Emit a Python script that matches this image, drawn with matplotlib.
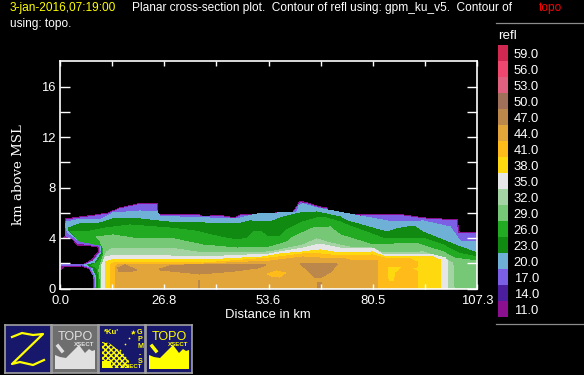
import matplotlib
matplotlib.use('Agg')
import matplotlib.pyplot as plt
from matplotlib.lines import Line2D

plt.rcParams['font.family'] = ['Liberation Sans', 'DejaVu Sans']

# refl levels and colour key
levels = [11, 14, 17, 20, 23, 26, 29, 32, 35, 38, 41, 44, 47, 50, 53, 56, 59]
level_colors = ['#8b1090', '#4b1e9e', '#7b60e6', '#6fb1d6', '#108a10', '#22aa22',
                '#76c876', '#a4d4a4', '#e6e6e6', '#ffd90f', '#ffbb1a', '#e1a53a',
                '#bc874b', '#a0705a', '#e06080', '#f0476f', '#d02850']
col = dict(zip(levels, level_colors))

# contour outlines, distance in km and height in km
x_11 = [8.6, 8.5, 7.7, 5.7, 1.0, 0, 0, 6.2, 8.2, 9.8, 9.8, 8.2, 4.6, 3.1, 1.0, 1.3, 1.3, 9.0, 12.4, 15.4, 20.1, 25.0, 25.2, 30.1,
        36.0, 36.8, 40.4, 45.0, 46.3, 60.0, 61.2, 61.8, 63.6, 66.9, 68.7, 69.0, 77.2, 86.7, 93.7, 102.2, 102.7, 107.3, 107.3]
y_11 = [0, 1.07, 1.55, 1.79, 1.71, 1.47, 1.94, 1.94, 2.26, 2.9, 3.29, 3.37, 3.45, 3.93, 4.0, 4.1, 5.52, 5.83, 5.99, 6.39, 6.71, 6.71, 5.91, 5.91,
        5.83, 5.67, 5.83, 5.6, 5.83, 6.07, 6.63, 6.94, 6.79, 6.47, 6.39, 5.99, 5.83, 5.91, 5.6, 5.44, 4.48, 4.48, 0]
x_17 = [8.9, 8.7, 7.7, 5.7, 0, 0, 6.2, 8.5, 10.3, 10.0, 8.2, 4.6, 3.1, 1.5, 1.5, 1.8, 9.0, 12.4, 15.4, 20.1, 24.7, 25.2, 30.1,
        36.0, 40.4, 45.0, 46.3, 60.0, 61.5, 62.0, 63.6, 66.9, 68.7, 69.0, 77.2, 86.7, 93.7, 101.9, 102.4, 107.3, 107.3]
y_17 = [0, 1.0, 1.63, 1.87, 1.79, 1.87, 1.87, 2.18, 2.9, 3.37, 3.45, 3.61, 4.0, 4.17, 5.28, 5.44, 5.75, 5.91, 6.31, 6.63, 6.63, 5.83, 5.83,
        5.75, 5.75, 5.52, 5.75, 5.99, 6.63, 6.79, 6.71, 6.39, 6.31, 5.91, 5.75, 5.83, 5.52, 5.36, 4.4, 4.4, 0]
x_20 = [9.3, 9.0, 8.0, 6.2, 6.9, 8.7, 10.6, 10.3, 8.2, 5.1, 3.6, 2.1, 1.3, 1.8, 4.4, 10.3, 13.6, 20.6, 25.0, 25.7, 30.9,
        45.5, 50.7, 61.0, 61.5, 62.5, 66.1, 70.3, 77.2, 85.7, 93.4, 100.4, 102.9, 107.3, 107.3]
y_20 = [0, 1, 1.71, 1.87, 1.9, 2.18, 2.9, 3.53, 3.61, 3.77, 4.09, 4.4, 5.04, 5.28, 5.44, 5.44, 5.99, 6.15, 6.07, 5.75, 5.67,
        5.52, 5.91, 6.07, 6.55, 6.71, 6.39, 6.15, 5.75, 5.28, 5.36, 4.88, 3.77, 3.69, 0]
x_23 = [9.5, 9.5, 8.5, 7.2, 9.0, 10.8, 10.6, 8.2, 5.7, 3.6, 2.1, 2.1, 5.1, 10.3, 13.6, 20.6, 27.5, 36.8, 45.5, 48.9, 54.0, 57.4,
        61.8, 66.1, 72.1, 73.9, 84.1, 86.7, 89.3, 91.4, 93.4, 100.4, 102.4, 107.3, 107.3]
y_23 = [0, 0.91, 1.63, 1.87, 2.02, 2.82, 3.61, 3.77, 3.69, 4.17, 4.72, 4.8, 5.12, 5.2, 5.52, 5.52, 5.28, 5.2, 5.12, 5.36, 5.28, 5.67,
        5.99, 6.07, 5.67, 5.36, 4.48, 4.72, 4.88, 4.88, 4.48, 3.61, 3.37, 2.82, 0]
x_26 = [9.8, 10.0, 9.5, 8.2, 9.5, 11.1, 10.8, 10.3, 5.1, 3.6, 2.6, 3.1, 7.7, 11.6, 18.0, 28.3, 34.7, 41.2, 45.5, 48.1, 49.7, 51.5, 53.5,
        56.6, 58.4, 62.5, 66.1, 67.7, 72.1, 73.9, 83.1, 93.4, 98.6, 102.4, 107.3, 107.3]
y_26 = [0, 0.83, 1.63, 1.83, 2.02, 2.74, 3.61, 3.45, 3.77, 4.25, 4.56, 4.48, 4.56, 4.8, 5.04, 4.8, 4.56, 4.09, 3.85, 4.0, 4.48, 4.56, 4.09,
        4.09, 4.64, 5.28, 5.6, 5.67, 5.28, 5.04, 4.0, 4.0, 3.45, 2.82, 2.5, 0]
x_29 = [10.3, 10.3, 10.0, 10.3, 11.1, 11.1, 10.3, 9.5, 13.6, 18.8, 28.3, 36.8, 45.5, 54.0, 58.4, 60.0, 65.1, 69.5, 72.1, 73.9, 80.5,
        91.4, 98.6, 101.4, 107.3, 107.3]
y_29 = [0, 0.75, 1.47, 1.87, 2.58, 3.21, 3.77, 4.09, 4.25, 4.0, 4.0, 3.45, 3.21, 3.29, 3.69, 4.09, 4.8, 4.88, 4.25, 4.09, 3.45,
        3.61, 2.9, 2.42, 2.18, 0]
x_32 = [10.6, 10.8, 11.3, 11.6, 12.1, 13.6, 28.3, 36.8, 54.0, 62.5, 66.1, 69.5, 74.6, 80.3, 83.1, 93.4, 98.6, 101.1, 101.4]
y_32 = [0, 1.47, 2.1, 2.66, 2.9, 3.21, 3.21, 2.82, 2.9, 3.45, 3.93, 3.61, 3.29, 3.21, 2.82, 2.9, 2.42, 2.02, 0]
x_35 = [10.8, 10.8, 11.6, 12.9, 28.3, 36.8, 54.0, 56.6, 62.5, 66.9, 72.1, 76.4, 80.5, 83.1, 96.0, 99.1, 99.8, 99.8]
y_35 = [0, 1.87, 2.5, 2.58, 2.58, 2.5, 2.74, 2.9, 3.21, 3.53, 3.21, 3.21, 3.21, 2.66, 2.66, 2.42, 2.1, 0]
x_38 = [11.8, 11.8, 12.9, 28.3, 36.8, 52.2, 56.6, 62.5, 66.9, 72.1, 74.6, 80.5, 83.1, 96.0, 97.8, 98.0]
y_38 = [0, 2.1, 2.26, 2.34, 2.26, 2.5, 2.74, 2.9, 3.06, 2.82, 2.82, 2.9, 2.58, 2.5, 2.26, 0]
x_41 = [13.1, 13.1, 14.2, 28.3, 36.8, 54.0, 62.5, 66.9, 72.1, 80.3, 83.6, 89.6, 91.9, 91.9, 90.1, 92.1, 92.1]
y_41 = [0, 1.94, 2.1, 2.1, 2.02, 2.42, 2.74, 2.74, 2.58, 2.66, 2.42, 2.42, 2.1, 1.71, 1.63, 1.31, 0]
x_44 = [14.2, 14.2, 14.9, 28.3, 36.8, 54.0, 62.5, 66.9, 72.1, 74.6, 81.6, 81.6]
y_44 = [0, 1.63, 1.94, 1.94, 1.94, 2.18, 2.5, 2.42, 2.42, 2.26, 2.26, 0]

# small closed patches inside the core
x_47a = [14.9, 16.7, 18.5, 19.8, 17.5, 15.2]
y_47a = [1.63, 1.87, 1.63, 1.47, 1.31, 1.31]
x_47b = [25.7, 28.3, 36.0, 53.0, 50.9, 45.0, 36.0, 28.3, 25.7]
y_47b = [1.55, 1.79, 1.94, 1.87, 1.63, 1.39, 1.15, 1.39, 1.47]
x_47c = [61.8, 64.3, 71.5, 69.5, 67.4, 65.6, 63.7]
y_47c = [1.94, 2.02, 1.94, 1.31, 0.91, 0.91, 1.47]
x_47d = [66.1, 67.4, 67.4, 66.1]
y_47d = [0.52, 0.52, 0, 0]
x_47e = [35.6, 36.0, 36.0, 35.6]
y_47e = [0.67, 0.67, 0, 0]
x_41b = [53.5, 55.8, 57.9, 56.6, 54.5]
y_41b = [1.15, 1.39, 1.23, 0.91, 0.99]
x_38b = [84.4, 87.5, 86.2, 85.7, 84.7]
y_38b = [1.63, 1.63, 1.31, 0.67, 0.67]

layers = [(x_11, y_11, 11), (x_17, y_17, 17), (x_20, y_20, 20), (x_23, y_23, 23), (x_26, y_26, 26),
          (x_29, y_29, 29), (x_32, y_32, 32), (x_35, y_35, 35), (x_38, y_38, 38), (x_41, y_41, 41),
          (x_44, y_44, 44), (x_47a, y_47a, 47), (x_47b, y_47b, 47), (x_47c, y_47c, 47), (x_47d, y_47d, 47),
          (x_47e, y_47e, 47), (x_41b, y_41b, 41), (x_38b, y_38b, 38)]

x_labels = ['0.0', '26.8', '53.6', '80.5', '107.3']
x_label_pos = [0, 26.82, 53.65, 80.47, 107.3]
x_minor = [13.41, 40.24, 67.06, 93.89]
y_ticks = [0, 2, 4, 6, 8, 10, 12, 14, 16]
y_labels = ['0', '', '4', '', '8', '', '12', '', '16']

W, H = 584, 375
fig = plt.figure(figsize=(W / 100, H / 100), dpi=100, facecolor='black')


def box(x0, y0, x1, y1):
    # pixel box of the picture, y down, to figure fractions
    return [x0 / W, 1 - y1 / H, (x1 - x0) / W, (y1 - y0) / H]


def label(px, py, s, color='white', size=8.6, **kw):
    fig.text(px / W, 1 - py / H, s, color=color, fontsize=size, va='center', **kw)


# main plot
ax = fig.add_axes(box(60, 61, 477, 288.5), facecolor='black')
for xs, ys, lev in layers:
    ax.fill(xs, ys, color=col[lev], lw=0, antialiased=False)
ax.set_xlim(0, 107.3)
ax.set_ylim(0, 18.05)
for s in ax.spines.values():
    s.set_color('white')
    s.set_linewidth(1.2)
ax.set_xticks(x_label_pos)
ax.set_xticklabels(x_labels, color='white', fontsize=9.4)
ax.set_xticks(x_minor, minor=True)
ax.tick_params(axis='x', which='both', direction='in', top=True, length=3.8, width=1, color='white', pad=5)
ax.set_yticks(y_ticks)
ax.set_yticklabels(y_labels, color='white', fontsize=9.4)
ax.tick_params(axis='y', direction='in', right=True, length=7.4, width=1, color='white', pad=3)
ax.set_axisbelow(False)

label(268, 315, 'Distance in km', size=9.4, ha='center')
fig.text(19 / W, 1 - 175 / H, 'km above MSL', color='white', fontsize=9.6, family='DejaVu Serif',
         rotation=90, ha='center', va='center')

# header
label(10, 8.5, '3-jan-2016,07:19:00', color='#ffff00')
label(132, 8.5, 'Planar cross-section plot.  Contour of refl using: gpm_ku_v5.  Contour of')
label(539, 8.5, 'topo', color='#ff0000')
label(10, 24, 'using: topo.')

# colour key
cax = fig.add_axes(box(498, 45, 508, 317))
cax.bar([0] * len(levels), [1] * len(levels), bottom=range(len(levels)), width=1, color=level_colors)
cax.set_xlim(-0.5, 0.5)
cax.set_ylim(0, len(levels))
cax.set_frame_on(False)
cax.set_xticks([])
cax.yaxis.tick_right()
cax.set_yticks([i + 0.5 for i in range(len(levels))])
cax.set_yticklabels(['%.1f' % v for v in levels], color='white', fontsize=9.4)
cax.tick_params(axis='y', length=0, pad=4)
label(498, 36, 'refl', size=9.6)
for yy in (23, 324):
    fig.add_artist(Line2D([496 / W, 1], [1 - yy / H] * 2, color='#8c8c8c', lw=0.9))

# icon bar
NAVY = '#17176b'
YEL = '#ffff00'
ridge_x = [3, 3, 8, 14, 20, 27, 33, 37, 40, 43, 43]
ridge_y = [44, 30, 32, 33, 27, 20, 28, 24, 26, 25, 44]
z_x = [7, 17, 28, 38, 7, 15, 28, 39]
z_y = [12, 8, 10, 9, 39, 37, 40, 35]
hill_x = [3, 3, 10, 18, 24, 30, 30]
hill_y = [43, 17, 18, 24, 28, 36, 43]
beam_x = [16, 21, 26, 30, 33]
beam_y = [30, 25, 19, 13, 8]


def icon(x0, bg):
    a = fig.add_axes(box(x0, 325, x0 + 46, 373), facecolor=bg)
    a.set_xlim(0, 46)
    a.set_ylim(48, 0)
    a.set_xticks([])
    a.set_yticks([])
    for s in a.spines.values():
        s.set_color('#a0a0a0')
        s.set_linewidth(1.2)
    return a


def topo_icon(x0, bg, fg):
    a = icon(x0, bg)
    a.fill(ridge_x, ridge_y, color=fg, lw=0)
    a.text(23, 12, 'TOPO', color=fg, fontsize=9, ha='center', va='center')
    a.text(32, 19, 'XSECT', color=fg, fontsize=4.4, weight='bold', ha='center', va='center')
    a.plot([6, 10], [21, 26], color=fg, lw=2.5)


a1 = icon(5, NAVY)
a1.plot(z_x, z_y, color=YEL, lw=1.6)
topo_icon(52, '#6e6e6e', '#e0e0e0')
a3 = icon(99, NAVY)
a3.fill(hill_x, hill_y, facecolor='none', edgecolor=YEL, hatch='xxxxxx', lw=0)
a3.fill([3, 3, 12, 12], [43, 36, 36, 43], color=YEL, lw=0)
a3.scatter(beam_x, beam_y, s=1.5, color=YEL, lw=0)
a3.scatter([34], [7], s=14, color=YEL, marker='*', lw=0)
a3.text(5, 8, '*Ku\'', color=YEL, fontsize=5.5, weight='bold', va='center')
a3.text(41, 22, 'G\nP\nM\n-\nS', color=YEL, fontsize=5.2, weight='bold', ha='center', va='center', linespacing=1.05)
a3.text(33, 42, 'XSECT', color=YEL, fontsize=4.4, weight='bold', ha='center', va='center')
topo_icon(146, NAVY, YEL)

fig.savefig('out.png', dpi=100, facecolor='black')
